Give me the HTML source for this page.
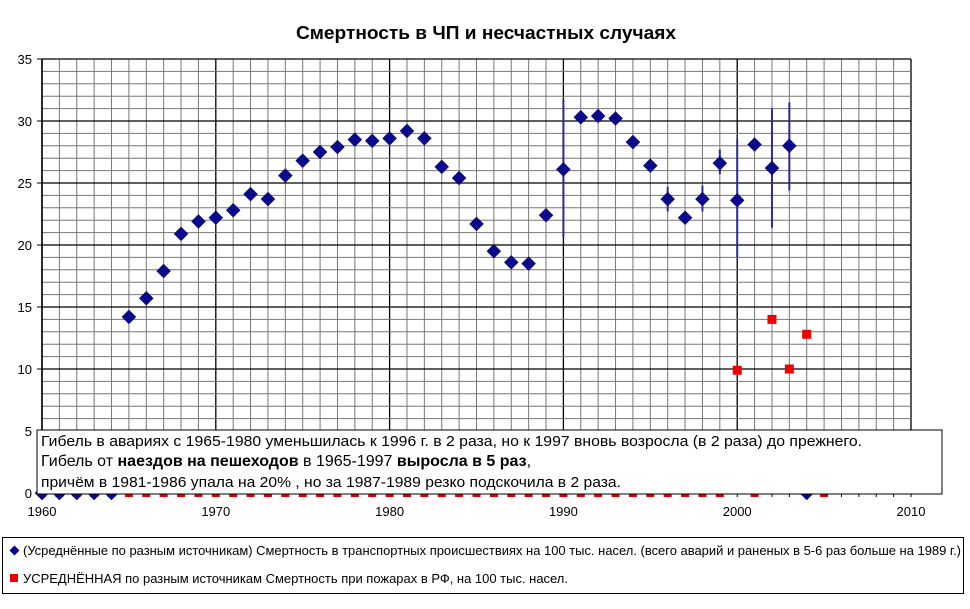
<!DOCTYPE html>
<html><head><meta charset="utf-8"><style>
body{margin:0;background:#fff;}
svg text{font-family:"Liberation Sans",sans-serif;}
</style></head><body>
<svg width="970" height="604" xmlns="http://www.w3.org/2000/svg">
<rect width="970" height="604" fill="#fff"/>
<text x="296" y="39" font-size="18" font-weight="bold" textLength="380" lengthAdjust="spacingAndGlyphs">Смертность в ЧП и несчастных случаях</text>
<g id="grid"></g>
<g id="marks"></g>
<rect x="37" y="430" width="905" height="64" fill="#fff" stroke="#000" stroke-width="1"/>
<text font-size="15" fill="#000">
<tspan x="41" y="446" textLength="821" lengthAdjust="spacingAndGlyphs">Гибель в авариях с 1965-1980 уменьшилась к 1996 г. в 2 раза, но к 1997 вновь возросла (в 2 раза) до прежнего.</tspan>
<tspan x="41" y="466" font-size="16">Гибель от <tspan font-weight="bold">наездов на пешеходов</tspan> в 1965-1997 <tspan font-weight="bold">выросла в 5 раз</tspan>,</tspan>
<tspan x="41" y="487" textLength="580" lengthAdjust="spacingAndGlyphs">причём в 1981-1986 упала на 20% , но за 1987-1989 резко подскочила в 2 раза.</tspan>
</text>
<rect x="2.5" y="537.5" width="961" height="56" fill="#fff" stroke="#000" stroke-width="1"/>
<rect x="11" y="547" width="7" height="7" fill="#00008b" transform="rotate(45 14.5 550.5)"/>
<text x="23" y="555" font-size="13" textLength="938" lengthAdjust="spacingAndGlyphs">(Усреднённые по разным источникам) Смертность в транспортных происшествиях на 100 тыс. насел. (всего аварий и раненых в 5-6 раз больше на 1989 г.)</text>
<rect x="10" y="574" width="8" height="8" fill="#e00"/>
<text x="23" y="583" font-size="13" textLength="545" lengthAdjust="spacingAndGlyphs">УСРЕДНЁННАЯ по разным источникам Смертность при пожарах в РФ, на 100 тыс. насел.</text>
<script>
(function(){
var ns="http://www.w3.org/2000/svg";
function X(y){return 42+(y-1960)*17.38;}
function Y(v){return 493-v*12.4;}
var g=document.getElementById('grid'),m=document.getElementById('marks');
function el(p,t,a){var e=document.createElementNS(ns,t);for(var k in a)e.setAttribute(k,a[k]);p.appendChild(e);return e;}
for(var yr=1960;yr<=2010;yr++){var x=X(yr);var maj=(yr%10==0);
 el(g,'line',{x1:x,y1:59,x2:x,y2:493,stroke:maj?'#000':'#777','stroke-width':maj?1.3:1});
 el(g,'line',{x1:x,y1:493,x2:x,y2:497,stroke:'#000'});
 if(maj){var t=el(g,'text',{x:x,y:516,'font-size':13,'text-anchor':'middle'});t.textContent=yr;}}
for(var v=0;v<=35;v++){var y=Y(v);var maj=(v%5==0);
 el(g,'line',{x1:42,y1:y,x2:911,y2:y,stroke:maj?'#000':'#777','stroke-width':maj?1.3:1});
 if(maj){el(g,'line',{x1:37,y1:y,x2:42,y2:y,stroke:'#000'});var t=el(g,'text',{x:32,y:y+5,'font-size':13,'text-anchor':'end'});t.textContent=v;}}
el(g,'line',{x1:42,y1:59,x2:42,y2:493,stroke:'#000','stroke-width':1.5});
for(var yr=1960;yr<=2005;yr++){if([2000,2002,2003,2004].indexOf(yr)>=0)continue;
 el(m,'rect',{x:X(yr)-4,y:Y(0)-4,width:8,height:8,fill:'#d00'});}
var red=[[2000,9.9],[2002,14.0],[2003,10.0],[2004,12.8]];
red.forEach(function(d){el(m,'rect',{x:X(d[0])-4.5,y:Y(d[1])-4.5,width:9,height:9,fill:'#e00'});});
var err=[[1990,31.7,20.6],[1996,24.7,22.7],[1998,24.8,22.7],[1999,27.7,25.7],[2000,28.5,19.0],[2002,31.0,21.4],[2003,31.5,24.4]];
err.forEach(function(d){el(m,'line',{x1:X(d[0]),y1:Y(d[1]),x2:X(d[0]),y2:Y(d[2]),stroke:'#2a2a9a','stroke-width':2});});
var dia=[[1960,0],[1961,0],[1962,0],[1963,0],[1964,0],[1965,14.2],[1966,15.7],[1967,17.9],[1968,20.9],[1969,21.9],[1970,22.2],[1971,22.8],[1972,24.1],[1973,23.7],[1974,25.6],[1975,26.8],[1976,27.5],[1977,27.9],[1978,28.5],[1979,28.4],[1980,28.6],[1981,29.2],[1982,28.6],[1983,26.3],[1984,25.4],[1985,21.7],[1986,19.5],[1987,18.6],[1988,18.5],[1989,22.4],[1990,26.1],[1991,30.3],[1992,30.4],[1993,30.2],[1994,28.3],[1995,26.4],[1996,23.7],[1997,22.2],[1998,23.7],[1999,26.6],[2000,23.6],[2001,28.1],[2002,26.2],[2003,28.0],[2004,0]];
dia.forEach(function(d){var x=X(d[0]),y=Y(d[1]);el(m,'polygon',{points:(x)+','+(y-7)+' '+(x+7)+','+y+' '+x+','+(y+7)+' '+(x-7)+','+y,fill:'#0a0a8c',stroke:'#000050','stroke-width':0.5});});
})();
</script>
</svg>
</body></html>
